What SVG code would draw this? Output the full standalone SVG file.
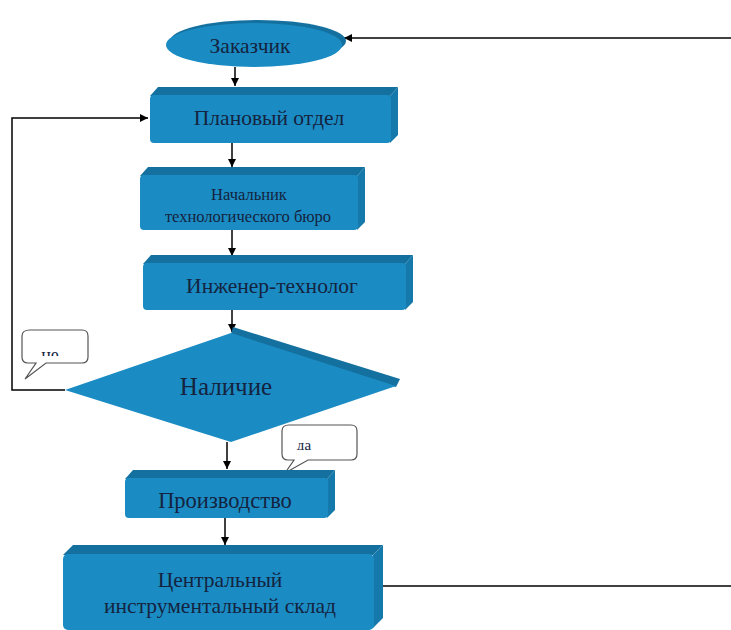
<svg xmlns="http://www.w3.org/2000/svg" width="731" height="630" viewBox="0 0 731 630">
<defs>
<marker id="arr" viewBox="0 0 10 10" refX="10" refY="5" markerWidth="8" markerHeight="8" markerUnits="userSpaceOnUse" orient="auto">
<path d="M0,0 L10,5 L0,10 z" fill="#000"/>
</marker>
<clipPath id="clipNe"><rect x="22" y="330" width="66" height="26"/></clipPath>
<clipPath id="clipDa"><rect x="282" y="425" width="75" height="25"/></clipPath>
</defs>
<style>
.front{fill:#1b8cc3}
.top{fill:#14709f}
.side{fill:#1679ab}
.t{font-family:"Liberation Serif","Times New Roman",serif;fill:#14233f;text-anchor:middle}
.conn{stroke:#000;stroke-width:1.5;fill:none}
.call{fill:#fff;stroke:#555;stroke-width:1.2}
</style>
<rect width="731" height="630" fill="#fff"/>

<g id="connectors">
<line class="conn" x1="235" y1="67" x2="235" y2="86" marker-end="url(#arr)"/>
<line class="conn" x1="232" y1="143" x2="232" y2="167" marker-end="url(#arr)"/>
<line class="conn" x1="232" y1="230" x2="232" y2="256" marker-end="url(#arr)"/>
<line class="conn" x1="232" y1="310" x2="232" y2="332" marker-end="url(#arr)"/>
<line class="conn" x1="227" y1="442" x2="227" y2="469" marker-end="url(#arr)"/>
<line class="conn" x1="225" y1="518" x2="225" y2="545" marker-end="url(#arr)"/>
<polyline class="conn" points="65,390 12,390 12,118 148,118" marker-end="url(#arr)"/>
<line class="conn" x1="731" y1="38" x2="344" y2="38" marker-end="url(#arr)"/>
<line class="conn" x1="383" y1="586" x2="731" y2="586"/>
</g>

<g id="zakazchik">
<ellipse cx="258" cy="41" rx="88" ry="21" class="top"/>
<ellipse cx="254" cy="45" rx="88" ry="22" class="front"/>
<text class="t" x="250" y="53" font-size="21.5">Заказчик</text>
</g>

<g id="planovy">
<polygon class="top" points="150,96 158,87 398,87 390,96"/>
<polygon class="side" points="390,96 398,87 398,135 390,143"/>
<rect class="front" x="150" y="95" width="241" height="48" rx="4"/>
<text class="t" x="269" y="125" font-size="21.5">Плановый отдел</text>
</g>

<g id="nachalnik">
<polygon class="top" points="140,176 148,167 365,167 357,176"/>
<polygon class="side" points="357,176 365,167 365,222 357,230"/>
<rect class="front" x="140" y="175" width="218" height="55" rx="4"/>
<text class="t" x="249" y="200" font-size="16.5">Начальник</text>
<text class="t" x="248" y="222" font-size="16.5">технологического бюро</text>
</g>

<g id="inzhener">
<polygon class="top" points="143,264 151,255 413,255 405,264"/>
<polygon class="side" points="405,264 413,255 413,302 405,310"/>
<rect class="front" x="143" y="263" width="263" height="47" rx="4"/>
<text class="t" x="272" y="293" font-size="21.5">Инженер-технолог</text>
</g>

<g id="nalichie">
<polygon class="top" points="233,327 400,379 396,387 231,334"/>
<polygon class="front" points="231,333 396,386 231,442 65,390"/>
<text class="t" x="226" y="395" font-size="25">Наличие</text>
</g>

<g id="callout-ne">
<path class="call" d="M30,330 H82 Q88,330 88,336 V357 Q88,363 82,363 H46 L25,379 L36,363 H28 Q22,363 22,357 V336 Q22,330 30,330 Z"/>
<text class="t" x="50" y="361" font-size="18" clip-path="url(#clipNe)">не</text>
</g>

<g id="callout-da">
<path class="call" d="M289,425 H351 Q357,425 357,431 V454 Q357,460 351,460 H308 L285,473 L294,460 H288 Q282,460 282,454 V431 Q282,425 289,425 Z"/>
<text class="t" x="304" y="450" font-size="15" clip-path="url(#clipDa)">да</text>
</g>

<g id="proizvodstvo">
<polygon class="top" points="125,479 133,470 335,470 327,479"/>
<polygon class="side" points="327,479 335,470 335,510 327,518"/>
<rect class="front" x="125" y="478" width="203" height="40" rx="4"/>
<text class="t" x="225" y="508" font-size="22.5">Производство</text>
</g>

<g id="cis">
<polygon class="top" points="63,555 73,545 383,545 373,555"/>
<polygon class="side" points="373,555 383,545 383,618 373,628"/>
<rect class="front" x="63" y="554" width="311" height="76" rx="5"/>
<text class="t" x="220" y="587" font-size="21.5">Центральный</text>
<text class="t" x="220" y="613" font-size="21.5">инструментальный склад</text>
</g>
</svg>
